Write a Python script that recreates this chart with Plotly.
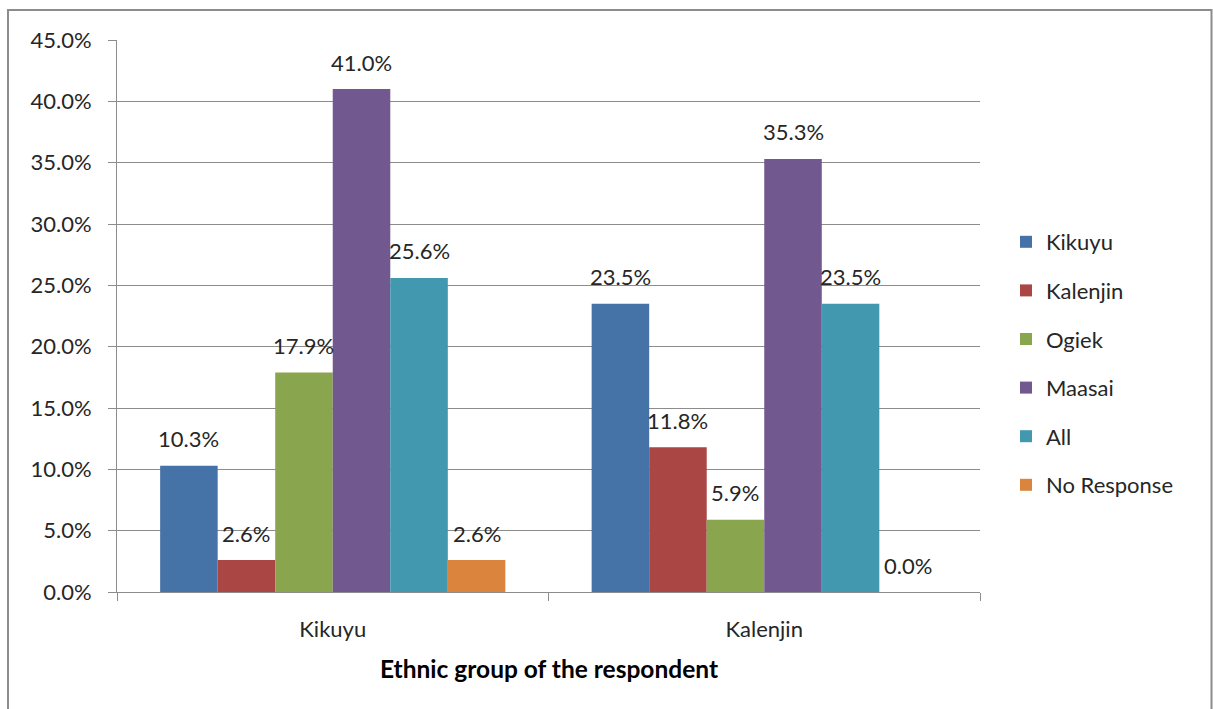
import plotly.graph_objects as go

# Respondent ethnic group (x categories)
categories = ["Kikuyu", "Kalenjin"]

# Series: share of responses by group named
series_names = ["Kikuyu", "Kalenjin", "Ogiek", "Maasai", "All", "No Response"]
kikuyu = [10.3, 23.5]
kalenjin = [2.6, 11.8]
ogiek = [17.9, 5.9]
maasai = [41.0, 35.3]
all_groups = [25.6, 23.5]
no_response = [2.6, 0.0]
series_values = [kikuyu, kalenjin, ogiek, maasai, all_groups, no_response]

colors = ["#4572A7", "#AA4643", "#89A54E", "#71588F", "#4198AF", "#DB843D"]

FONT = "Lato"
FS = 22
TEXT = "#262626"
GRID = "#8c8c8c"

W, H = 1213, 709
ML, MR, MT, MB = 117, 233, 40, 117
plot_w = W - ML - MR
plot_h = H - MT - MB

fig = go.Figure()
for name, vals, col in zip(series_names, series_values, colors):
    fig.add_trace(go.Bar(
        x=categories, y=[v / 100 for v in vals], name=name,
        marker=dict(color=col, line=dict(width=0)),
        legendgroup=name,
    ))

# value labels above each bar
n = len(series_names)
bargap = 0.2
cat_px = plot_w / len(categories)
bar_px = cat_px * (1 - bargap) / n
annotations = []
for i, vals in enumerate(series_values):
    shift = (i - (n - 1) / 2) * bar_px
    for c, v in zip(categories, vals):
        annotations.append(dict(
            x=c, y=v / 100, xref="x", yref="y", text=f"{v:.1f}%",
            showarrow=False, xshift=shift, yshift=27,
            yanchor="middle", xanchor="center",
            font=dict(family=FONT, size=FS, color=TEXT),
        ))

# x-axis title
annotations.append(dict(
    x=0.5, y=(592 - 668) / plot_h, xref="paper", yref="paper",
    text="<b>Ethnic group of the respondent</b>", showarrow=False,
    xanchor="center", yanchor="middle",
    font=dict(family=FONT, size=24.5, color="#000000"),
))

# chart outer frame
shapes = [dict(
    type="rect", xref="paper", yref="paper",
    x0=(8 - ML) / plot_w, x1=(1211.5 - ML) / plot_w,
    y0=-0.5, y1=1 + (MT - 10) / plot_h,
    line=dict(color="#8c8c8c", width=2), fillcolor="rgba(0,0,0,0)", layer="below",
)]

fig.update_layout(
    width=W, height=H,
    margin=dict(l=ML, r=MR, t=MT, b=MB, pad=0),
    paper_bgcolor="white", plot_bgcolor="white",
    barmode="group", bargap=bargap, bargroupgap=0,
    font=dict(family=FONT, size=FS, color=TEXT),
    annotations=annotations, shapes=shapes,
    legend=dict(
        x=(1006 - ML) / plot_w, y=(592 - 221) / plot_h,
        xanchor="left", yanchor="top",
        font=dict(family=FONT, size=FS, color=TEXT),
        tracegroupgap=17, itemwidth=30, bgcolor="rgba(0,0,0,0)",
    ),
    xaxis=dict(
        type="category", tickson="boundaries",
        showline=True, linecolor=GRID, linewidth=1,
        ticks="outside", ticklen=8, tickcolor=GRID,
        showgrid=False, ticklabelstandoff=18,
        tickfont=dict(family=FONT, size=FS, color=TEXT),
    ),
    yaxis=dict(
        range=[0, 0.45], dtick=0.05, tickformat=".1%",
        showline=True, linecolor=GRID, linewidth=1,
        ticks="outside", ticklen=8, tickcolor=GRID,
        showgrid=True, gridcolor=GRID, gridwidth=1,
        zeroline=False, ticklabelstandoff=12,
        tickfont=dict(family=FONT, size=FS, color=TEXT),
    ),
)

fig.write_html("out.html")
